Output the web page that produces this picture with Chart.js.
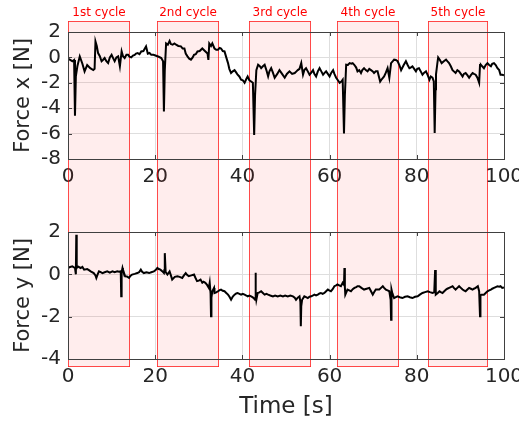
<!DOCTYPE html>
<html>
<head>
<meta charset="utf-8">
<script src="https://cdn.jsdelivr.net/npm/chart.js@4/dist/chart.umd.min.js"></script>
<style>
  body { margin: 0; background: #fff; }
  #wrap { position: relative; width: 519px; height: 423px; }
  canvas { position: absolute; left: 0; }
</style>
</head>
<body>
<div id="wrap">
  <canvas id="topChart" width="519" height="200" style="top:0"></canvas>
  <canvas id="bottomChart" width="519" height="223" style="top:200px"></canvas>
</div>
<script>
/* global Chart */

// cycles (seconds)
const cycleLabels = ['1st cycle', '2nd cycle', '3rd cycle', '4th cycle', '5th cycle'];
const cycleStart = [0, 20.3, 41.5, 61.6, 82.5];
const cycleEnd = [14.0, 34.4, 55.4, 75.6, 96.2];

const xTicks = [0, 20, 40, 60, 80, 100];
const yTicksTop = [-8, -6, -4, -2, 0, 2];
const yTicksBottom = [-4, -2, 0, 2];

// Force x trace
const timeX = [0, 0.5, 1.0, 1.4, 1.6, 1.8, 2.15, 2.7, 3.3, 3.8, 4.4, 5.1, 5.8, 6.1, 6.3, 6.6, 6.9, 7.3, 7.7, 8.0,
  8.4, 8.8, 9.2, 9.6, 10.0, 10.4, 10.7, 11.1, 11.5, 11.9, 12.3, 12.6, 13.0, 13.4, 13.8, 14.1, 14.5, 14.9, 15.3, 15.6,
  16.0, 16.4, 16.8, 17.3, 17.9, 18.3, 18.7, 19.1, 19.6, 20.2, 20.8, 21.4, 21.8, 22.0, 22.2, 22.5, 22.9, 23.3, 23.6, 24.0,
  24.4, 24.8, 25.3, 25.9, 26.3, 26.7, 27.0, 27.4, 27.8, 28.2, 28.6, 28.9, 29.3, 29.7, 30.2, 30.8, 31.4, 32.0, 32.2, 32.4,
  32.8, 33.1, 33.6, 34.0, 34.4, 34.8, 35.1, 35.5, 35.9, 36.3, 36.7, 37.0, 37.4, 37.8, 38.2, 38.6, 38.9, 39.3, 39.7, 40.1,
  40.5, 40.9, 41.2, 41.6, 42.0, 42.4, 42.7, 42.9, 43.2, 43.6, 44.0, 44.3, 44.7, 45.1, 45.5, 45.9, 46.2, 46.6, 47.0, 47.4,
  48.0, 48.5, 49.1, 49.7, 50.2, 50.8, 51.4, 52.0, 52.4, 52.7, 53.1, 53.5, 53.9, 54.2, 54.6, 55.0, 55.4, 55.8, 56.2, 56.5,
  56.9, 57.3, 57.7, 58.1, 58.5, 58.9, 59.2, 59.6, 60.0, 60.4, 60.8, 61.1, 61.5, 61.9, 62.3, 62.7, 63.0, 63.3, 63.5, 63.8,
  64.2, 64.6, 65.0, 65.3, 65.7, 66.1, 66.4, 66.8, 67.2, 67.5, 67.9, 68.3, 68.7, 69.1, 69.5, 69.9, 70.2, 70.6, 71.0, 71.3,
  71.6, 72.0, 72.5, 72.9, 73.3, 73.7, 74.1, 74.5, 74.8, 75.2, 75.6, 76.0, 76.4, 77.0, 77.5, 77.9, 78.3, 78.6, 79.0, 79.4,
  79.8, 80.1, 80.5, 80.9, 81.3, 81.7, 82.1, 82.5, 82.9, 83.2, 83.6, 83.9, 84.1, 84.3, 84.4, 84.7, 84.9, 85.3, 85.7, 86.2,
  86.7, 87.0, 87.4, 87.8, 88.2, 88.5, 88.9, 89.3, 89.7, 90.1, 90.5, 90.8, 91.2, 91.6, 92.0, 92.4, 92.8, 93.1, 93.5, 93.9,
  94.3, 94.5, 94.7, 95.0, 95.4, 95.8, 96.2, 96.6, 97.0, 97.3, 97.7, 98.1, 98.5, 98.9, 99.2, 99.6, 100];
const forceX = [-0.1, -0.2, -0.3, -0.2, -4.6, -1.5, -0.7, 0.08, -0.5, -1.1, -0.6, -0.85, -1.0, -0.9, 1.26, 0.9, 0.34, 0.1, -0.3, -0.2,
  -0.05, -0.3, -0.45, 0.0, 0.2, -0.1, -0.3, 0.0, 0.08, -0.7, 0.47, 0.1, -0.05, 0.2, 0.2, 0.05, 0.0, 0.15, 0.2, 0.3,
  0.34, 0.25, 0.47, 0.5, 0.87, 0.3, 0.35, 0.2, 0.2, 0.13, 0.05, -0.05, -0.3, -4.25, -1.0, 1.1, 1.0, 1.3, 1.05, 1.0,
  1.1, 1.0, 0.9, 0.87, 0.7, 0.7, 0.3, 0.08, -0.1, -0.18, 0.0, 0.2, 0.25, 0.47, 0.5, 0.7, 0.5, 0.3, -0.2, 1.1,
  0.9, 1.1, 0.7, 0.6, 0.6, 0.75, 0.7, 0.5, 0.47, 0.0, -0.45, -0.9, -1.23, -1.1, -1.0, -1.2, -1.36, -1.5, -1.76, -1.8,
  -2.0, -1.7, -1.5, -1.8, -1.9, -2.0, -6.1, -3.0, -1.0, -0.58, -0.7, -0.85, -0.7, -0.58, -1.0, -1.5, -1.1, -0.85, -1.2, -1.6,
  -1.3, -1.0, -1.3, -1.6, -1.3, -1.1, -1.3, -1.23, -1.1, -1.0, -0.9, -0.45, -1.36, -1.0, -0.85, -1.1, -1.36, -1.2, -1.0, -1.3,
  -1.5, -1.1, -0.85, -1.1, -1.36, -1.2, -1.1, -1.3, -1.5, -1.2, -1.0, -1.3, -1.6, -1.8, -2.0, -1.9, -1.76, -6.0, -3.0, -0.58,
  -0.6, -0.45, -0.5, -0.45, -0.6, -0.8, -1.1, -1.0, -1.23, -1.0, -0.85, -1.0, -1.1, -0.9, -1.0, -1.1, -1.23, -1.1, -1.1, -1.5,
  -1.9, -1.7, -1.5, -1.2, -0.85, -1.6, -0.45, -0.3, -0.18, -0.2, -0.3, -0.6, -1.0, -0.6, -0.3, -0.6, -0.85, -0.8, -0.7, -0.9,
  -1.1, -0.9, -0.85, -1.1, -1.36, -1.2, -1.1, -1.4, -1.76, -1.5, -1.6, -1.9, -5.95, -2.5, -1.36, -0.5, 0.0, -0.2, -0.45, -0.3,
  -0.18, -0.3, -0.45, -0.7, -1.0, -1.1, -1.23, -1.0, -1.1, -1.3, -1.5, -1.3, -1.23, -1.4, -1.6, -1.4, -1.23, -1.3, -1.36, -1.6,
  -2.0, -0.6, -0.58, -0.7, -0.85, -0.6, -0.45, -0.6, -0.7, -0.5, -0.45, -0.6, -0.85, -1.0, -1.36, -1.36, -1.4];

// Force y trace
const timeY = [0, 0.5, 1.0, 1.6, 1.8, 1.9, 2.0, 2.2, 2.9, 3.3, 3.7, 4.4, 4.8, 5.2, 5.9, 6.3, 6.5, 6.8, 7.1, 7.5,
  7.9, 8.4, 9.0, 9.6, 10.2, 10.7, 11.3, 11.7, 12.1, 12.2, 12.3, 12.5, 12.6, 13.1, 13.5, 14.0, 14.3, 14.7, 15.3, 15.9,
  16.3, 16.7, 17.0, 17.4, 18.0, 18.6, 19.1, 19.7, 20.1, 20.5, 20.8, 21.2, 21.6, 22.0, 22.1, 22.2, 22.4, 22.8, 23.3, 23.6,
  23.9, 24.5, 25.1, 25.6, 26.2, 26.6, 27.0, 27.3, 27.7, 28.3, 28.9, 29.2, 29.6, 30.0, 30.4, 30.8, 31.1, 31.5, 31.9, 32.3,
  32.5, 32.7, 32.8, 32.9, 33.1, 33.5, 33.6, 34.0, 34.4, 34.8, 35.1, 35.5, 35.9, 36.3, 36.7, 37.0, 37.4, 37.8, 38.2, 38.6,
  38.9, 39.3, 39.7, 40.1, 40.5, 40.9, 41.2, 41.6, 42.0, 42.3, 42.6, 42.9, 43.0, 43.1, 43.2, 43.5, 43.9, 44.3, 44.7, 45.1,
  45.5, 45.9, 46.4, 47.0, 47.5, 48.1, 48.7, 49.3, 49.8, 50.4, 51.0, 51.6, 52.0, 52.3, 52.7, 53.1, 53.3, 53.4, 53.5, 53.7,
  54.2, 54.6, 55.0, 55.4, 55.8, 56.2, 56.5, 56.9, 57.3, 57.7, 58.0, 58.4, 58.8, 59.2, 59.6, 59.9, 60.3, 60.7, 61.1, 61.5,
  61.8, 62.2, 62.6, 63.0, 63.3, 63.4, 63.5, 63.6, 64.1, 64.5, 64.9, 65.3, 65.7, 66.1, 66.4, 66.8, 67.3, 67.9, 68.5, 69.1,
  69.5, 69.9, 70.2, 70.6, 71.0, 71.4, 71.8, 72.2, 72.5, 72.9, 73.3, 73.7, 74.0, 74.1, 74.2, 74.4, 74.8, 75.2, 75.6, 76.1,
  76.7, 77.3, 77.9, 78.4, 79.0, 79.6, 80.2, 80.7, 81.3, 81.9, 82.5, 83.0, 83.6, 84.0, 84.2, 84.3, 84.4, 84.8, 85.2, 85.5,
  85.9, 86.3, 86.7, 87.0, 87.4, 87.8, 88.2, 88.5, 88.9, 89.3, 89.7, 90.1, 90.5, 90.8, 91.2, 91.6, 92.0, 92.4, 92.8, 93.1,
  93.5, 94.0, 94.3, 94.5, 94.6, 94.8, 95.4, 95.8, 96.2, 96.6, 97.0, 97.3, 97.7, 98.1, 98.5, 98.9, 99.2, 99.6, 100];
const forceY = [0.3, 0.35, 0.38, 0.3, 0.0, 1.87, 0.3, 0.38, 0.3, 0.35, 0.22, 0.25, 0.2, 0.14, 0.06, -0.05, -0.17, 0.0, 0.14, 0.1,
  0.06, 0.1, 0.14, 0.08, 0.14, 0.1, 0.14, 0.12, 0.14, -1.04, 0.1, 0.3, 0.22, -0.09, -0.1, -0.17, -0.08, -0.01, 0.02, 0.06,
  0.1, 0.22, 0.12, 0.06, 0.1, 0.06, 0.1, 0.14, 0.2, 0.3, 0.25, 0.22, 0.15, 0.06, 0.2, 1.0, 0.1, -0.01, 0.14, -0.05,
  -0.25, -0.12, -0.09, -0.12, -0.17, -0.05, 0.06, -0.02, -0.09, -0.05, -0.01, -0.15, -0.32, -0.3, -0.25, -0.4, -0.35, -0.4, -0.5, -0.64,
  -0.4, -0.9, -1.98, -1.1, -0.8, -0.64, -0.88, -0.85, -0.8, -0.75, -0.72, -0.78, -0.8, -0.88, -0.96, -1.05, -1.2, -1.05, -0.96, -0.9,
  -0.88, -0.92, -0.96, -0.92, -0.96, -1.0, -1.04, -1.0, -1.04, -1.08, -1.12, -1.2, 0.07, -0.9, -1.2, -0.88, -0.85, -0.8, -0.88, -0.96,
  -0.92, -0.96, -1.0, -1.04, -1.0, -1.04, -1.0, -1.04, -1.0, -1.04, -1.0, -1.04, -1.1, -1.2, -1.1, -1.04, -1.3, -2.45, -1.5, -1.2,
  -1.04, -1.08, -1.12, -1.06, -1.04, -1.0, -0.96, -1.0, -0.96, -0.9, -0.88, -0.92, -0.88, -0.8, -0.72, -0.76, -0.8, -0.7, -0.56, -0.52,
  -0.48, -0.52, -0.56, -0.4, -0.5, 0.3, -0.6, -0.96, -0.72, -0.76, -0.8, -0.7, -0.64, -0.6, -0.56, -0.56, -0.64, -0.72, -0.68, -0.64,
  -0.8, -0.96, -0.85, -0.72, -0.72, -0.72, -0.64, -0.56, -0.64, -0.72, -0.76, -0.8, -1.2, -2.14, -0.72, -0.9, -1.12, -1.08, -1.04, -1.08,
  -1.12, -1.06, -1.04, -1.08, -1.12, -1.06, -1.04, -0.96, -0.88, -0.84, -0.8, -0.84, -0.88, -0.85, 0.2, -0.5, -0.96, -0.88, -0.8, -0.84,
  -0.88, -0.8, -0.72, -0.68, -0.64, -0.6, -0.56, -0.64, -0.72, -0.64, -0.56, -0.64, -0.72, -0.76, -0.8, -0.72, -0.64, -0.68, -0.72, -0.68,
  -0.64, -0.56, -0.8, -1.98, -1.0, -0.96, -0.96, -0.88, -0.8, -0.76, -0.72, -0.68, -0.64, -0.6, -0.56, -0.58, -0.56, -0.64, -0.62];

const FONT = 'DejaVu Sans';
const TEXT = '#262626';

function points(ts, vs) {
  return ts.map((t, i) => ({ x: t, y: vs[i] }));
}

// shaded cycle boxes, drawn through the x scale
const cyclePlugin = {
  id: 'cycles',
  beforeDatasetsDraw(chart, args, opts) {
    const ctx = chart.ctx;
    const xs = chart.scales.x;
    ctx.save();
    for (let i = 0; i < cycleStart.length; i++) {
      const x0 = Math.round(xs.getPixelForValue(cycleStart[i])) + 0.5;
      const x1 = Math.round(xs.getPixelForValue(cycleEnd[i])) + 0.5;
      ctx.fillStyle = 'rgba(255, 0, 0, 0.07)';
      ctx.fillRect(x0, opts.top, x1 - x0, opts.bottom - opts.top);
      ctx.strokeStyle = 'rgba(255, 0, 0, 0.7)';
      ctx.lineWidth = 1;
      ctx.beginPath();
      ctx.moveTo(x0, opts.top); ctx.lineTo(x0, opts.bottom);
      ctx.moveTo(x1, opts.top); ctx.lineTo(x1, opts.bottom);
      if (opts.closeTop) { ctx.moveTo(x0, opts.top + 0.5); ctx.lineTo(x1, opts.top + 0.5); }
      if (opts.closeBottom) { ctx.moveTo(x0, opts.bottom - 0.5); ctx.lineTo(x1, opts.bottom - 0.5); }
      ctx.stroke();
      if (opts.labels) {
        ctx.fillStyle = '#ff0000';
        ctx.font = '12px ' + FONT;
        ctx.textAlign = 'center';
        ctx.textBaseline = 'middle';
        ctx.fillText(cycleLabels[i], (x0 + x1) / 2, 13);
      }
    }
    ctx.restore();
  }
};

// axes box with inward ticks
const boxPlugin = {
  id: 'box',
  afterDatasetsDraw(chart) {
    const ctx = chart.ctx;
    const a = chart.chartArea;
    ctx.save();
    ctx.strokeStyle = '#404040';
    ctx.lineWidth = 1;
    ctx.strokeRect(Math.round(a.left) + 0.5, Math.round(a.top) + 0.5, Math.round(a.right - a.left), Math.round(a.bottom - a.top));
    ctx.beginPath();
    chart.scales.x.ticks.forEach(t => {
      const x = Math.round(chart.scales.x.getPixelForValue(t.value)) + 0.5;
      ctx.moveTo(x, a.top); ctx.lineTo(x, a.top + 4);
      ctx.moveTo(x, a.bottom); ctx.lineTo(x, a.bottom - 4);
    });
    chart.scales.y.ticks.forEach(t => {
      const y = Math.round(chart.scales.y.getPixelForValue(t.value)) + 0.5;
      ctx.moveTo(a.left, y); ctx.lineTo(a.left + 4, y);
      ctx.moveTo(a.right, y); ctx.lineTo(a.right - 4, y);
    });
    ctx.stroke();
    ctx.restore();
  }
};

function makeChart(id, ts, vs, yTicks, yLabel, xTitle, xHeight, cycleOpts) {
  return new Chart(document.getElementById(id).getContext('2d'), {
    type: 'line',
    data: {
      datasets: [{
        data: points(ts, vs),
        borderColor: '#000000',
        borderWidth: 2,
        pointRadius: 0,
        tension: 0,
        fill: false
      }]
    },
    options: {
      responsive: false,
      animation: false,
      layout: { padding: { left: 0, right: 15, top: 32, bottom: 0 } },
      plugins: {
        legend: { display: false },
        tooltip: { enabled: false },
        cycles: cycleOpts
      },
      scales: {
        x: {
          type: 'linear',
          min: 0,
          max: 100,
          afterBuildTicks: s => { s.ticks = xTicks.map(v => ({ value: v })); },
          ticks: { font: { family: FONT, size: 20 }, color: TEXT, padding: 6, maxRotation: 0, autoSkip: false },
          grid: { color: '#dedede', drawTicks: false },
          border: { display: false },
          title: { display: !!xTitle, text: xTitle, font: { family: FONT, size: 23 }, color: TEXT, padding: { top: 0, bottom: 2 } },
          afterFit: s => { s.height = xHeight; s.paddingLeft = 0; s.paddingRight = 0; }
        },
        y: {
          min: yTicks[0],
          max: yTicks[yTicks.length - 1],
          afterBuildTicks: s => { s.ticks = yTicks.map(v => ({ value: v })); },
          ticks: { font: { family: FONT, size: 20 }, color: TEXT, padding: 7, autoSkip: false },
          grid: { color: '#dedede', drawTicks: false },
          border: { display: false },
          title: { display: true, text: yLabel, font: { family: FONT, size: 21 }, color: TEXT, padding: { top: 11, bottom: 0 } },
          afterFit: s => { s.width = 68; s.paddingTop = 0; s.paddingBottom = 0; }
        }
      }
    },
    plugins: [cyclePlugin, boxPlugin]
  });
}

makeChart('topChart', timeX, forceX, yTicksTop, 'Force x [N]', '', 41,
  { top: 21, bottom: 200, labels: true, closeTop: true, closeBottom: false });
makeChart('bottomChart', timeY, forceY, yTicksBottom, 'Force y [N]', 'Time [s]', 64,
  { top: 0, bottom: 167, labels: false, closeTop: false, closeBottom: true });
</script>
</body>
</html>
